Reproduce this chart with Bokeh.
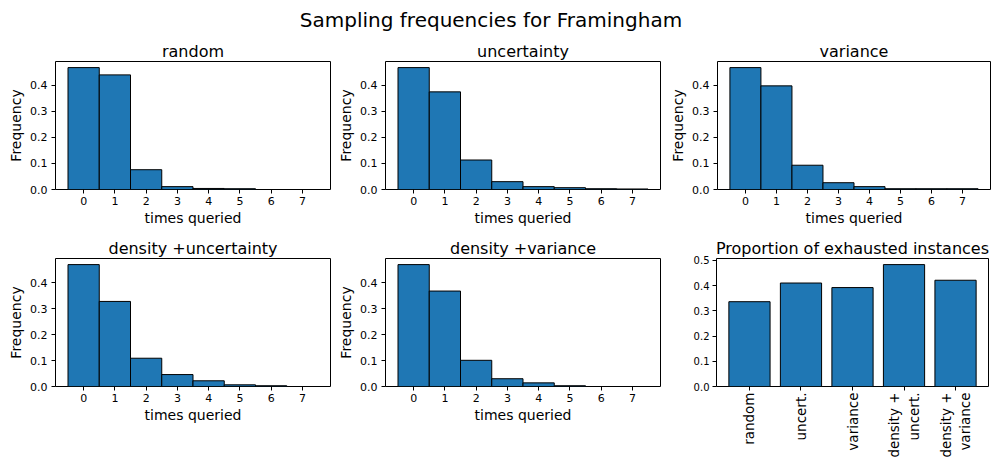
from math import pi
from bokeh.plotting import figure
from bokeh.layouts import column, row
from bokeh.models import Div, Range1d, FixedTicker, PrintfTickFormatter, ColumnDataSource
from bokeh.embed import file_html
from bokeh.resources import INLINE

# ---------------- data ----------------
times = [0, 1, 2, 3, 4, 5, 6, 7]
freq_random = [0.468, 0.440, 0.076, 0.011, 0.004, 0.003, 0.0, 0.0]
freq_uncertainty = [0.467, 0.374, 0.113, 0.030, 0.011, 0.007, 0.003, 0.002]
freq_variance = [0.467, 0.397, 0.093, 0.026, 0.011, 0.003, 0.003, 0.003]
freq_density_unc = [0.470, 0.328, 0.109, 0.046, 0.022, 0.0065, 0.003, 0.0]
freq_density_var = [0.470, 0.368, 0.101, 0.030, 0.014, 0.003, 0.0, 0.0]
freq_ticks = [0.0, 0.1, 0.2, 0.3, 0.4]

strategies = ["random", "uncert.", "variance", "density +\nuncert.", "density +\nvariance"]
exhausted = [0.336, 0.410, 0.392, 0.483, 0.421]
exhausted_ticks = [0.0, 0.1, 0.2, 0.3, 0.4, 0.5]

FONT = "DejaVu Sans"
BLUE = "#1f77b4"


def style(p, tick_size="11px"):
    p.title.text_font = FONT
    p.title.text_font_size = "16px"
    p.title.text_font_style = "normal"
    p.title.text_color = "black"
    p.title.align = "center"
    p.title.standoff = 2
    p.xgrid.visible = False
    p.ygrid.visible = False
    p.outline_line_color = "black"
    p.outline_line_alpha = 1
    p.outline_line_width = 1
    p.background_fill_color = "white"
    p.border_fill_color = "white"
    for ax in p.axis:
        ax.axis_line_color = None
        ax.major_tick_in = 0
        ax.major_tick_out = 4
        ax.major_tick_line_color = "black"
        ax.minor_tick_line_color = None
        ax.major_label_text_font = FONT
        ax.major_label_text_font_size = tick_size
        ax.major_label_text_color = "black"
        ax.major_label_standoff = 3
        ax.axis_label_text_font = FONT
        ax.axis_label_text_font_size = "14px"
        ax.axis_label_text_font_style = "normal"
        ax.axis_label_text_color = "black"
        ax.axis_label_standoff = 2


def hist(title, vals, width, height, left, right, top, bottom):
    p = figure(width=width, height=height, output_backend="svg", toolbar_location=None,
               x_range=Range1d(-0.9, 7.9), y_range=Range1d(0, max(vals) * 1.05),
               min_border_left=left, min_border_right=right,
               min_border_top=top, min_border_bottom=bottom, title=title,
               x_axis_label="times queried", y_axis_label="Frequency")
    src = ColumnDataSource(dict(left=[t - 0.5 for t in times],
                                right=[t + 0.5 for t in times], top=vals))
    p.quad(left="left", right="right", top="top", bottom=0, source=src,
           fill_color=BLUE, line_color="black", line_width=1)
    style(p)
    p.yaxis.major_label_standoff = 4
    p.yaxis.axis_label_standoff = 3
    p.xaxis.ticker = FixedTicker(ticks=times)
    p.yaxis.ticker = FixedTicker(ticks=freq_ticks)
    p.yaxis.formatter = PrintfTickFormatter(format="%.1f")
    return p


H0, H1, H2 = 36, 197, 228
p1 = hist("random", freq_random, 332, H1, 55, 2, 25, 44)
p2 = hist("uncertainty", freq_uncertainty, 330, H1, 53, 2, 25, 44)
p3 = hist("variance", freq_variance, 332, H1, 55, 4, 25, 44)
p4 = hist("density +uncertainty", freq_density_unc, 332, H2, 55, 2, 25, 75)
p5 = hist("density +variance", freq_density_var, 330, H2, 53, 2, 25, 75)

p6 = figure(width=332, height=H2, output_backend="svg", toolbar_location=None,
            x_range=Range1d(-0.64, 4.64), y_range=Range1d(0, max(exhausted) * 1.05),
            min_border_left=54, min_border_right=6, min_border_top=25, min_border_bottom=75,
            title="Proportion of exhausted instances")
src6 = ColumnDataSource(dict(x=list(range(len(strategies))), top=exhausted))
p6.vbar(x="x", top="top", width=0.8, bottom=0, source=src6,
        fill_color=BLUE, line_color="black", line_width=1)
style(p6, tick_size="10px")
p6.xaxis.ticker = FixedTicker(ticks=list(range(len(strategies))))
p6.xaxis.major_label_overrides = {i: s for i, s in enumerate(strategies)}
p6.xaxis.major_label_orientation = pi / 2
p6.xaxis.major_label_text_font_size = "13.5px"
p6.xaxis.major_label_standoff = 2
p6.yaxis.ticker = FixedTicker(ticks=exhausted_ticks)
p6.yaxis.formatter = PrintfTickFormatter(format="%.1f")

title_div = Div(
    text='<div style="width:982px; font-family:\'DejaVu Sans\'; font-size:20px; '
         'color:black; text-align:center; line-height:26px; margin:0; padding:7px 0 0 0;">'
         'Sampling frequencies for Framingham</div>',
    width=994, height=H0, margin=(0, 0, 0, 0))

layout = column(title_div, row(p1, p2, p3), row(p4, p5, p6))

with open("out.html", "w") as f:
    f.write(file_html(layout, INLINE))
